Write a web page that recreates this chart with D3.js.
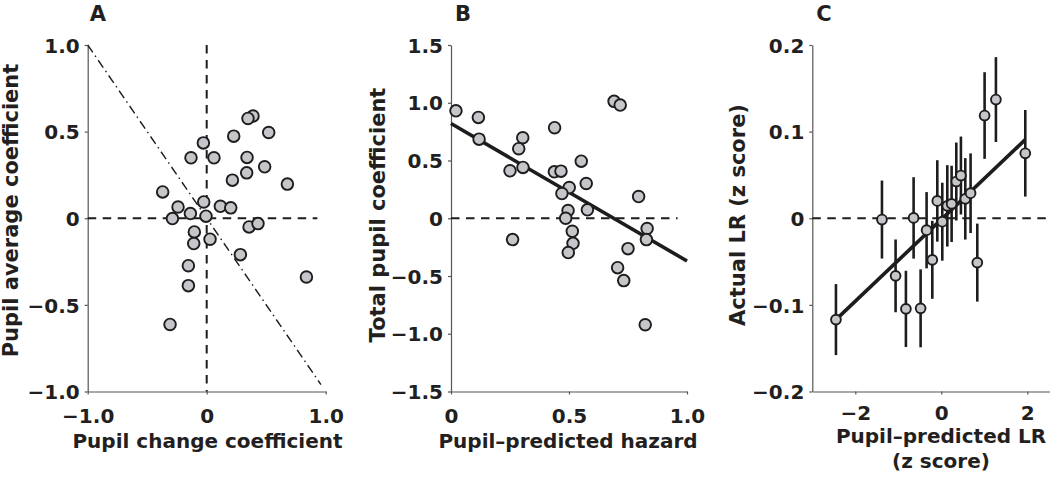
<!DOCTYPE html>
<html>
<head>
<meta charset="utf-8">
<script src="https://cdn.jsdelivr.net/npm/d3@7"></script>
<style>
  html, body { margin: 0; padding: 0; background: #fff; }
  svg { display: block; }
  text { font-family: "DejaVu Sans", "Liberation Sans", Arial, sans-serif; font-weight: bold; fill: #231f20; }
</style>
</head>
<body>
<svg id="chart" width="1050" height="479"></svg>
<script>
// ---------- Data ----------
// Panel A: pupil change coefficient (x) vs pupil average coefficient (y)
const aChange  = [0.389, 0.347, 0.521, 0.227, -0.028, -0.132, 0.061, 0.339, 0.487, 0.336,
                  0.216, 0.678, -0.37, -0.025, -0.241, 0.115, 0.202, -0.137, -0.006, -0.288,
                  0.356, 0.431, -0.104, -0.109, 0.028, 0.283, -0.154, 0.838, -0.154, -0.308];
const aAverage = [0.59, 0.576, 0.495, 0.474, 0.435, 0.349, 0.349, 0.351, 0.297, 0.262,
                  0.22, 0.197, 0.152, 0.094, 0.065, 0.069, 0.06, 0.027, 0.012, -0.002,
                  -0.05, -0.031, -0.079, -0.146, -0.121, -0.21, -0.274, -0.339, -0.389, -0.613];
const aDiagonal = [[-1, 1], [0.96, -0.96]];

// Panel B: pupil-predicted hazard (x) vs total pupil coefficient (y)
const bHazard = [0.021, 0.116, 0.119, 0.304, 0.287, 0.25, 0.305, 0.439, 0.438, 0.466,
                 0.552, 0.501, 0.47, 0.573, 0.496, 0.486, 0.578, 0.691, 0.717, 0.795,
                 0.261, 0.514, 0.517, 0.497, 0.831, 0.828, 0.75, 0.706, 0.732, 0.823];
const bTotal  = [0.93, 0.873, 0.685, 0.697, 0.602, 0.411, 0.44, 0.784, 0.402, 0.408,
                 0.494, 0.266, 0.214, 0.301, 0.067, 0.0, 0.073, 1.012, 0.98, 0.188,
                 -0.185, -0.113, -0.217, -0.297, -0.089, -0.185, -0.263, -0.428, -0.54, -0.922];
const bFit = { intercept: 0.82, slope: -1.19, xFrom: 0, xTo: 1 };

// Panel C: pupil-predicted LR (x) vs actual LR (y), with error bars
const cPredicted = [-2.45, -1.38, -1.063, -0.823, -0.644, -0.481, -0.342, -0.209, -0.093, 0.023,
                    0.14, 0.24, 0.349, 0.456, 0.558, 0.681, 0.837, 1.007, 1.27, 1.953];
const cActual    = [-0.117, -0.0015, -0.0665, -0.1046, 0.0004, -0.104, -0.0138, -0.048, 0.02, -0.004,
                    0.0143, 0.0166, 0.0424, 0.0493, 0.0224, 0.0289, -0.0512, 0.1186, 0.137, 0.075];
const cError     = [0.041, 0.045, 0.042, 0.044, 0.047, 0.045, 0.044, 0.045, 0.047, 0.045,
                    0.047, 0.044, 0.045, 0.045, 0.047, 0.046, 0.045, 0.05, 0.049, 0.05];
const cFit = { intercept: -0.0014, slope: 0.0472, xFrom: -2.45, xTo: 1.953 };

// Tick values and labels
const aXTicks = [-1, 0, 1],            aXLabels = ["\u22121.0", "0", "1.0"];
const aYTicks = [1, 0.5, 0, -0.5, -1], aYLabels = ["1.0", "0.5", "0", "\u22120.5", "\u22121.0"];
const bXTicks = [0, 0.5, 1],           bXLabels = ["0", "0.5", "1.0"];
const bYTicks = [1.5, 1, 0.5, 0, -0.5, -1, -1.5],
      bYLabels = ["1.5", "1.0", "0.5", "0", "\u22120.5", "\u22121.0", "\u22121.5"];
const cXTicks = [-2, 0, 2],            cXLabels = ["\u22122", "0", "2"];
const cYTicks = [0.2, 0.1, 0, -0.1, -0.2], cYLabels = ["0.2", "0.1", "0", "\u22120.1", "\u22120.2"];

// ---------- Drawing ----------
const svg = d3.select("#chart");
const INK = "#1f1c1d";
const DOT_FILL = "#c5c6ca";

function drawAxes(x, y, xt, xl, yt, yl, xPad) {
  const [x0] = x.range();
  const [y0] = y.range();
  const gx = svg.append("g").attr("transform", `translate(0,${y0})`)
    .call(d3.axisBottom(x).tickValues(xt).tickSizeInner(3).tickSizeOuter(0).tickPadding(xPad)
      .tickFormat((d, i) => xl[i]));
  const gy = svg.append("g").attr("transform", `translate(${x0},0)`)
    .call(d3.axisLeft(y).tickValues(yt).tickSizeInner(3).tickSizeOuter(0).tickPadding(5)
      .tickFormat((d, i) => yl[i]));
  [gx, gy].forEach(g => {
    g.select(".domain").attr("stroke", "#555").attr("stroke-width", 1.2);
    g.selectAll(".tick line").attr("stroke", "#555").attr("stroke-width", 1.2);
    g.selectAll(".tick text").style("font-size", "20px")
      .style("font-family", '"DejaVu Sans", "Liberation Sans", Arial, sans-serif')
      .style("font-weight", "bold").attr("fill", INK);
  });
  gx.selectAll(".tick text").attr("dy", "0.71em");
  gy.selectAll(".tick text").attr("dy", "0.36em");
}

function dashedLine(pts, x, y, dash, w) {
  svg.append("path")
    .attr("d", d3.line().x(d => x(d[0])).y(d => y(d[1]))(pts))
    .attr("fill", "none").attr("stroke", INK)
    .attr("stroke-width", w).attr("stroke-dasharray", dash);
}

function dots(xs, ys, x, y, r) {
  svg.append("g").selectAll("circle").data(xs).join("circle")
    .attr("cx", d => x(d)).attr("cy", (d, i) => y(ys[i])).attr("r", r)
    .attr("fill", DOT_FILL).attr("stroke", INK).attr("stroke-width", 1.9);
}

function fitLine(fit, x, y) {
  const pts = [fit.xFrom, fit.xTo].map(v => [v, fit.intercept + fit.slope * v]);
  svg.append("path")
    .attr("d", d3.line().x(d => x(d[0])).y(d => y(d[1]))(pts))
    .attr("stroke", INK).attr("stroke-width", 3.6).attr("fill", "none");
}

function yTitle(txt, cx, cy) {
  svg.append("text").attr("transform", `translate(${cx},${cy}) rotate(-90)`)
    .attr("text-anchor", "middle").style("font-size", "21px").text(txt);
}
function xTitle(txt, cx, by) {
  svg.append("text").attr("x", cx).attr("y", by)
    .attr("text-anchor", "middle").style("font-size", "20px").text(txt);
}
function panelLetter(txt, cx) {
  svg.append("text").attr("x", cx).attr("y", 20.5).attr("text-anchor", "middle")
    .style("font-size", "21px").text(txt);
}

const TOP = 45, BOTTOM = 391.5;

// Panel A
{
  const x = d3.scaleLinear().domain([-1, 1]).range([87.7, 325.7]);
  const y = d3.scaleLinear().domain([-1, 1]).range([BOTTOM, TOP]);
  drawAxes(x, y, aXTicks, aXLabels, aYTicks, aYLabels, 14);
  dashedLine([[0, 1], [0, -1]], x, y, "8.5,6.5", 2);
  dashedLine([[-1, 0], [0.93, 0]], x, y, "8.5,6.5", 2);
  dashedLine(aDiagonal, x, y, "9,4,1.5,4", 1.4);
  dots(aChange, aAverage, x, y, 5.8);
  yTitle("Pupil average coefficient", 17.5, 210.5);
  xTitle("Pupil change coefficient", 207.5, 448);
  panelLetter("A", 98);
}

// Panel B
{
  const x = d3.scaleLinear().domain([0, 1]).range([451, 687]);
  const y = d3.scaleLinear().domain([-1.5, 1.5]).range([BOTTOM, TOP]);
  drawAxes(x, y, bXTicks, bXLabels, bYTicks, bYLabels, 14);
  dashedLine([[0, 0], [0.96, 0]], x, y, "8.5,6.5", 2);
  fitLine(bFit, x, y);
  dots(bHazard, bTotal, x, y, 5.8);
  yTitle("Total pupil coefficient", 385, 215);
  xTitle("Pupil\u2013predicted hazard", 568, 448);
  panelLetter("B", 463);
}

// Panel C
{
  const x = d3.scaleLinear().domain([-3, 3]).range([812.3, 1070.3]);
  const y = d3.scaleLinear().domain([-0.2, 0.2]).range([BOTTOM, TOP]);
  drawAxes(x, y, cXTicks, cXLabels, cYTicks, cYLabels, 11);
  dashedLine([[-3, 0], [3, 0]], x, y, "8.5,6.5", 2);
  svg.append("g").selectAll("line").data(cPredicted).join("line")
    .attr("x1", d => x(d)).attr("x2", d => x(d))
    .attr("y1", (d, i) => y(cActual[i] - cError[i]))
    .attr("y2", (d, i) => y(cActual[i] + cError[i]))
    .attr("stroke", INK).attr("stroke-width", 2.6);
  fitLine(cFit, x, y);
  dots(cPredicted, cActual, x, y, 4.9);
  yTitle("Actual LR  (z score)", 745, 215);
  xTitle("Pupil\u2013predicted LR", 941, 443);
  xTitle("(z score)", 941, 468);
  panelLetter("C", 824);
}
</script>
</body>
</html>
